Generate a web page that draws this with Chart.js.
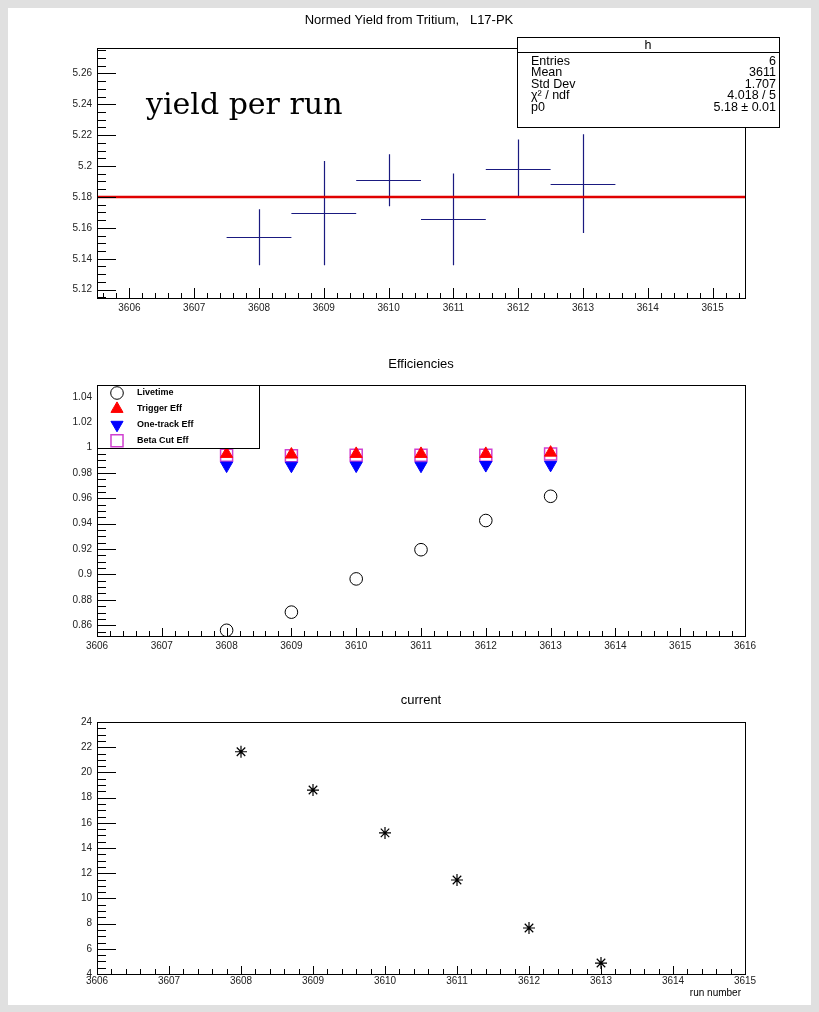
<!DOCTYPE html>
<html>
<head>
<meta charset="utf-8">
<script src="https://cdn.jsdelivr.net/npm/chart.js@4.4.0/dist/chart.umd.min.js"></script>
<style>
  body { margin: 0; background: #e0e0e0; }
  #page { position: relative; width: 819px; height: 1012px; background: #e0e0e0; overflow: hidden; }
  #sheet { position: absolute; left: 8px; top: 8px; width: 803px; height: 997px; background: #fff; }
  canvas { position: absolute; left: 0; }
</style>
</head>
<body>
<div id="page">
  <div id="sheet"></div>
  <canvas id="yieldChart" width="819" height="330" style="top:0"></canvas>
  <canvas id="effChart" width="819" height="330" style="top:330px"></canvas>
  <canvas id="curChart" width="819" height="352" style="top:660px"></canvas>
</div>
<script>
// data
const runs = [3608, 3609, 3610, 3611, 3612, 3613];
const yieldVals = [5.1539, 5.1695, 5.1908, 5.1655, 5.1984, 5.1886];
const yieldErrs = [0.0181, 0.0337, 0.0168, 0.0297, 0.0188, 0.0319];
const runHalfWidth = 0.5;
const fitP0 = 5.18;
const fitRange = [3605.5, 3615.5];

const livetime = [0.856, 0.8703, 0.8965, 0.9195, 0.9425, 0.9616];
const triggerEff = [0.995, 0.9945, 0.995, 0.995, 0.995, 0.996];
const oneTrackEff = [0.9858, 0.9857, 0.9858, 0.9857, 0.9862, 0.9864];
const betaCutEff = [0.994, 0.9935, 0.994, 0.994, 0.994, 0.995];

const current = [21.64, 18.6, 15.2, 11.46, 7.65, 4.87];

// axes
const yieldXTicks = [3606, 3607, 3608, 3609, 3610, 3611, 3612, 3613, 3614, 3615];
const yieldYTicks = [5.12, 5.14, 5.16, 5.18, 5.2, 5.22, 5.24, 5.26];
const effXTicks = [3606, 3607, 3608, 3609, 3610, 3611, 3612, 3613, 3614, 3615, 3616];
const effYTicks = [0.86, 0.88, 0.9, 0.92, 0.94, 0.96, 0.98, 1, 1.02, 1.04];
const curXTicks = [3606, 3607, 3608, 3609, 3610, 3611, 3612, 3613, 3614, 3615];
const curYTicks = [4, 6, 8, 10, 12, 14, 16, 18, 20, 22, 24];

const statsLabels = ['Entries', 'Mean', 'Std Dev', 'χ² / ndf', 'p0'];
const statsValues = ['6', '3611', '1.707', '4.018 / 5', '5.18 ± 0.01'];

const FONT = '"Liberation Sans", Arial, Helvetica, sans-serif';
const PLOT_RIGHT = 745;

// frame + ROOT style ticks drawn inside the frame
const rootFrame = {
  id: 'rootFrame',
  afterDatasetsDraw(chart, args, o) {
    const { ctx, chartArea: a, scales: { x, y } } = chart;
    ctx.save();
    ctx.strokeStyle = '#000';
    ctx.lineWidth = 1;
    ctx.beginPath();
    const xt = x.ticks.map(t => t.value), yt = y.ticks.map(t => t.value);
    const minorVals = (vals, n, lo, hi) => {
      const step = (vals[1] - vals[0]) / n, out = [];
      for (let v = vals[0] - step; v >= lo - 1e-9; v -= step) out.push(v);
      for (let v = vals[0] + step; v <= hi + 1e-9; v += step) out.push(v);
      return out;
    };
    xt.forEach(v => {
      const px = Math.round(x.getPixelForValue(v)) + 0.5;
      ctx.moveTo(px, a.bottom); ctx.lineTo(px, a.bottom - o.xMajor);
    });
    minorVals(xt, o.xDiv, x.min, x.max).forEach(v => {
      const px = Math.round(x.getPixelForValue(v)) + 0.5;
      ctx.moveTo(px, a.bottom); ctx.lineTo(px, a.bottom - o.xMinor);
    });
    yt.forEach(v => {
      const py = Math.round(y.getPixelForValue(v)) + 0.5;
      ctx.moveTo(a.left, py); ctx.lineTo(a.left + o.yMajor, py);
    });
    minorVals(yt, o.yDiv, y.min, y.max).forEach(v => {
      const py = Math.round(y.getPixelForValue(v)) + 0.5;
      ctx.moveTo(a.left, py); ctx.lineTo(a.left + o.yMinor, py);
    });
    ctx.stroke();
    ctx.strokeRect(Math.round(a.left) + 0.5, Math.round(a.top) + 0.5,
      Math.round(a.right - a.left), Math.round(a.bottom - a.top));
    ctx.restore();
  }
};

// horizontal/vertical error bars for datasets that carry yErr
const errorBars = {
  id: 'errorBars',
  beforeDatasetsDraw(chart) {
    const { ctx, scales: { x, y } } = chart;
    chart.data.datasets.forEach(ds => {
      if (!ds.yErr) return;
      ctx.save();
      ctx.strokeStyle = ds.borderColor;
      ctx.lineWidth = 1.2;
      ctx.beginPath();
      ds.data.forEach((p, j) => {
        const px = Math.round(x.getPixelForValue(p.x)) + 0.5;
        const py = Math.round(y.getPixelForValue(p.y)) + 0.5;
        ctx.moveTo(x.getPixelForValue(p.x - ds.xErr), py);
        ctx.lineTo(x.getPixelForValue(p.x + ds.xErr), py);
        ctx.moveTo(px, y.getPixelForValue(p.y - ds.yErr[j]));
        ctx.lineTo(px, y.getPixelForValue(p.y + ds.yErr[j]));
      });
      ctx.stroke();
      ctx.restore();
    });
  }
};

// free text: titles, annotations
const notes = {
  id: 'notes',
  afterDraw(chart, args, o) {
    const ctx = chart.ctx;
    ctx.save();
    (o.items || []).forEach(it => {
      ctx.font = it.font;
      ctx.fillStyle = it.color || '#000';
      ctx.textAlign = it.align || 'left';
      ctx.textBaseline = 'alphabetic';
      ctx.fillText(it.text, it.x, it.y);
    });
    ctx.restore();
  }
};

// ROOT stats box
const statsBox = {
  id: 'statsBox',
  afterDraw(chart, args, o) {
    if (!o.show) return;
    const ctx = chart.ctx;
    const L = 517, T = 37, R = 779, B = 127;
    ctx.save();
    ctx.fillStyle = '#fff';
    ctx.fillRect(L, T, R - L, B - T);
    ctx.strokeStyle = '#000';
    ctx.lineWidth = 1;
    ctx.strokeRect(L + 0.5, T + 0.5, R - L, B - T);
    ctx.beginPath();
    ctx.moveTo(L, 52.5); ctx.lineTo(R, 52.5);
    ctx.stroke();
    ctx.fillStyle = '#000';
    ctx.font = '12.5px ' + FONT;
    ctx.textAlign = 'center';
    ctx.fillText('h', (L + R) / 2, 49);
    statsLabels.forEach((lab, i) => {
      const yy = 65 + i * 11.4;
      ctx.textAlign = 'left';
      ctx.fillText(lab, 531, yy);
      ctx.textAlign = 'right';
      ctx.fillText(statsValues[i], 776, yy);
    });
    ctx.restore();
  }
};

// ROOT legend box
const rootLegend = {
  id: 'rootLegend',
  afterDraw(chart, args, o) {
    if (!o.show) return;
    const ctx = chart.ctx;
    const { L, T, R, B } = o.box;
    ctx.save();
    ctx.fillStyle = '#fff';
    ctx.fillRect(L, T, R - L, B - T);
    ctx.strokeStyle = '#000';
    ctx.lineWidth = 1;
    ctx.strokeRect(L + 0.5, T + 0.5, R - L, B - T);
    chart.data.datasets.forEach((ds, i) => {
      const yy = T + 8 + i * 15.9;
      ctx.fillStyle = ds.backgroundColor;
      ctx.strokeStyle = ds.borderColor;
      ctx.lineWidth = ds.borderWidth;
      Chart.helpers.drawPoint(ctx, {
        pointStyle: ds.pointStyle, radius: ds.pointRadius,
        rotation: ds.pointRotation || 0, borderWidth: ds.borderWidth
      }, L + 20, yy);
      ctx.fillStyle = '#000';
      ctx.font = 'bold 9px ' + FONT;
      ctx.textAlign = 'left';
      ctx.textBaseline = 'middle';
      ctx.fillText(ds.label, L + 40, yy);
    });
    ctx.restore();
  }
};

function pts(xs, ys) {
  return xs.map((v, i) => ({ x: v, y: ys[i] }));
}

function panelOptions(cfg) {
  const tickFont = { family: FONT, size: 10 };
  return {
    responsive: false,
    animation: false,
    devicePixelRatio: 1,
    layout: { padding: { left: 0, right: 819 - PLOT_RIGHT, top: cfg.top, bottom: 0 }, autoPadding: false },
    plugins: {
      legend: { display: false },
      tooltip: { enabled: false },
      rootFrame: { xMajor: cfg.xMajor || 9, xMinor: 5, xDiv: 5, yMajor: 19, yMinor: 9, yDiv: 4 },
      notes: { items: cfg.notes },
      statsBox: { show: !!cfg.stats },
      rootLegend: cfg.legend ? { show: true, box: cfg.legend } : { show: false }
    },
    scales: {
      x: {
        type: 'linear', min: cfg.xRange[0], max: cfg.xRange[1],
        grid: { display: false, drawTicks: false }, border: { display: false },
        afterBuildTicks: s => { s.ticks = cfg.xTicks.map(v => ({ value: v })); },
        afterFit: s => { s.height = cfg.xHeight; },
        ticks: { padding: cfg.xPad || 4, font: tickFont, color: '#222', autoSkip: false, maxRotation: 0,
          callback: v => String(v) }
      },
      y: {
        type: 'linear', min: cfg.yRange[0], max: cfg.yRange[1],
        grid: { display: false, drawTicks: false }, border: { display: false },
        afterBuildTicks: s => { s.ticks = cfg.yTicks.map(v => ({ value: v })); },
        afterFit: s => { s.width = 97; },
        ticks: { padding: 5, font: tickFont, color: '#222', autoSkip: false,
          callback: v => String(Number(v.toFixed(4))) }
      }
    }
  };
}

// top: yield per run with constant fit
new Chart(document.getElementById('yieldChart'), {
  type: 'scatter',
  data: {
    datasets: [
      {
        label: 'h', data: pts(runs, yieldVals), yErr: yieldErrs, xErr: runHalfWidth,
        borderColor: '#1a1a80', backgroundColor: '#1a1a80', pointRadius: 0
      },
      {
        type: 'line', label: 'pol0', data: pts(fitRange, [fitP0, fitP0]),
        borderColor: '#e00000', borderWidth: 2.5, pointRadius: 0, showLine: true
      }
    ]
  },
  options: panelOptions({
    top: 48, xHeight: 32, xRange: [3605.5, 3615.5], yRange: [5.1146, 5.2764],
    xTicks: yieldXTicks, yTicks: yieldYTicks, stats: true, xMajor: 10,
    notes: [
      { text: 'Normed Yield from Tritium,   L17-PK', x: 409, y: 24, font: '13px ' + FONT, align: 'center' },
      { text: 'yield per run', x: 146, y: 114, font: '30px "DejaVu Serif", serif' }
    ]
  }),
  plugins: [errorBars, rootFrame, notes, statsBox]
});

// middle: efficiencies
new Chart(document.getElementById('effChart'), {
  type: 'scatter',
  data: {
    datasets: [
      { label: 'Livetime', data: pts(runs, livetime), pointStyle: 'circle', pointRadius: 6.3,
        backgroundColor: 'rgba(0,0,0,0)', borderColor: '#000', borderWidth: 1 },
      { label: 'Trigger Eff', data: pts(runs, triggerEff), pointStyle: 'triangle', pointRadius: 7,
        backgroundColor: '#ff0000', borderColor: '#ff0000', borderWidth: 1 },
      { label: 'One-track Eff', data: pts(runs, oneTrackEff), pointStyle: 'triangle', pointRadius: 7,
        pointRotation: 180, rotation: 180,
        backgroundColor: '#0000ff', borderColor: '#0000ff', borderWidth: 1 },
      { label: 'Beta Cut Eff', data: pts(runs, betaCutEff), pointStyle: 'rect', pointRadius: 8.5,
        backgroundColor: 'rgba(0,0,0,0)', borderColor: '#d040d0', borderWidth: 1.5 }
    ]
  },
  options: panelOptions({
    top: 55, xHeight: 24, xRange: [3606, 3616], yRange: [0.8515, 1.0493],
    xTicks: effXTicks, yTicks: effYTicks, xMajor: 8,
    legend: { L: 97, T: 55, R: 259, B: 118 },
    notes: [
      { text: 'Efficiencies', x: 421, y: 38, font: '13px ' + FONT, align: 'center' }
    ]
  }),
  plugins: [rootFrame, notes, rootLegend]
});

// bottom: beam current
new Chart(document.getElementById('curChart'), {
  type: 'scatter',
  data: {
    datasets: [
      { label: 'current', data: pts(runs, current), pointStyle: 'star', pointRadius: 6,
        backgroundColor: '#000', borderColor: '#000', borderWidth: 1.2 }
    ]
  },
  options: panelOptions({
    top: 62, xHeight: 38, xRange: [3606, 3615], yRange: [4, 24],
    xTicks: curXTicks, yTicks: curYTicks, xMajor: 8, xPad: 1,
    notes: [
      { text: 'current', x: 421, y: 44, font: '13px ' + FONT, align: 'center' },
      { text: 'run number', x: 741, y: 336, font: '10px ' + FONT, align: 'right' }
    ]
  }),
  plugins: [rootFrame, notes]
});
</script>
</body>
</html>
